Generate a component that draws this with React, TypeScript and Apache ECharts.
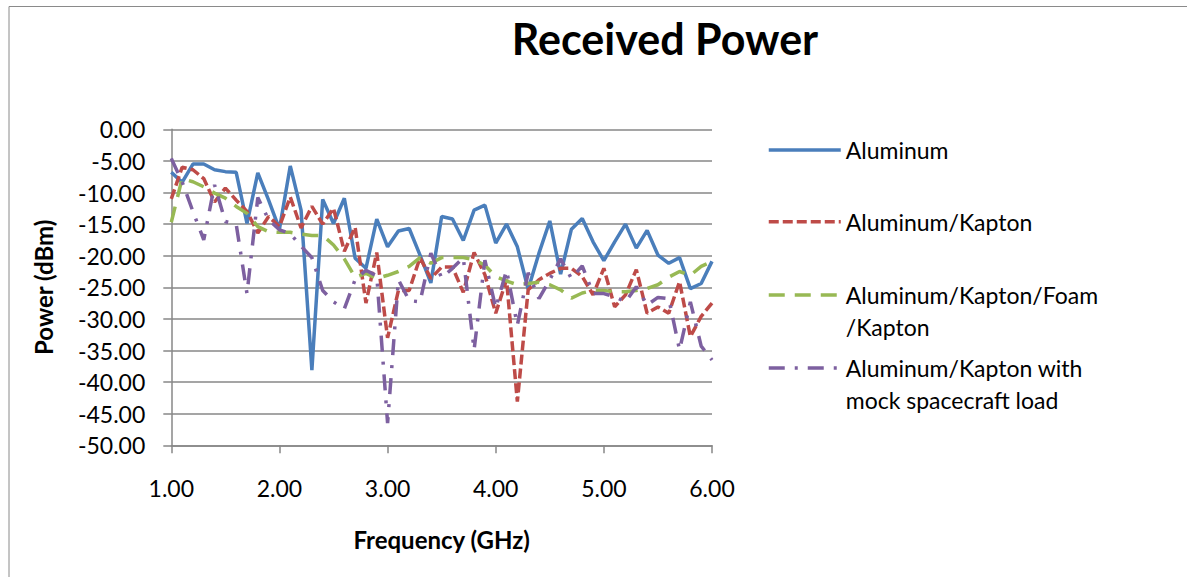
import React, { useEffect, useRef } from "react";
import * as echarts from "echarts";

const freq = [
  1.0, 1.1, 1.2, 1.3, 1.4, 1.5, 1.6, 1.7, 1.8, 1.9,
  2.0, 2.1, 2.2, 2.3, 2.4, 2.5, 2.6, 2.7, 2.8, 2.9,
  3.0, 3.1, 3.2, 3.3, 3.4, 3.5, 3.6, 3.7, 3.8, 3.9,
  4.0, 4.1, 4.2, 4.3, 4.4, 4.5, 4.6, 4.7, 4.8, 4.9,
  5.0, 5.1, 5.2, 5.3, 5.4, 5.5, 5.6, 5.7, 5.8, 5.9,
  6.0,
];

const aluminum = [
  -6.8, -8.4, -5.5, -5.5, -6.4, -6.7, -6.8, -14.9, -6.9, -11.2,
  -15.8, -5.8, -12.8, -38.1, -11.1, -14.9, -10.9, -20.4, -22.0, -14.2,
  -18.6, -16.1, -15.7, -19.9, -24.3, -13.8, -14.2, -17.6, -12.8, -12.0,
  -18.0, -15.0, -18.6, -25.3, -19.6, -14.5, -22.9, -15.8, -14.1, -17.8,
  -20.8, -17.8, -15.0, -18.8, -16.0, -19.9, -21.2, -20.3, -25.2, -24.4,
  -20.9,
];

const aluminumKapton = [
  -11.0, -6.0, -6.4, -7.8, -11.5, -9.3, -11.2, -13.0, -16.4, -13.8,
  -15.4, -10.7, -15.6, -12.2, -15.0, -12.5, -19.3, -15.5, -27.5, -19.5,
  -33.0, -25.5, -25.5, -20.3, -23.6, -21.8, -21.8, -25.8, -19.5, -23.0,
  -29.1, -23.8, -43.1, -25.4, -23.8, -22.8, -22.0, -22.0, -23.3, -26.2,
  -22.0, -28.1, -26.2, -22.2, -29.1, -28.1, -29.1, -24.1, -32.8, -29.6,
  -27.5,
];

const aluminumKaptonFoam = [
  -14.7, -7.8, -8.3, -9.1, -10.1, -10.9, -12.2, -13.3, -15.4, -16.2,
  -16.3, -16.3, -16.6, -16.8, -16.8, -18.3, -20.5, -23.4, -22.8, -23.6,
  -23.1, -22.5, -21.7, -20.3, -21.2, -20.3, -20.3, -20.3, -20.6, -21.5,
  -23.3, -24.0, -24.6, -24.4, -24.2, -24.6, -25.4, -26.7, -25.9, -25.5,
  -25.5, -25.7, -25.7, -25.5, -25.2, -24.6, -23.4, -22.5, -23.1, -21.7,
  -20.9,
];

const aluminumKaptonLoad = [
  -4.6, -8.3, -13.0, -17.5, -8.8, -14.6, -15.0, -26.0, -10.8, -14.3,
  -15.9, -16.5, -18.5, -20.3, -25.5, -27.3, -28.4, -23.8, -22.3, -23.2,
  -46.5, -23.8, -27.1, -27.3, -19.6, -23.5, -22.0, -20.3, -34.9, -20.7,
  -28.3, -22.3, -31.0, -22.7, -26.8, -23.8, -20.5, -23.6, -21.6, -26.0,
  -26.0, -26.5, -27.3, -24.9, -27.8, -26.6, -26.8, -34.9, -27.3, -34.3,
  -36.5,
];

const seriesNames = [
  "Aluminum",
  "Aluminum/Kapton",
  "Aluminum/Kapton/Foam/Kapton",
  "Aluminum/Kapton with mock spacecraft load",
];

const legendLines: Record<string, string[]> = {
  "Aluminum": ["Aluminum"],
  "Aluminum/Kapton": ["Aluminum/Kapton"],
  "Aluminum/Kapton/Foam/Kapton": ["Aluminum/Kapton/Foam", "/Kapton"],
  "Aluminum/Kapton with mock spacecraft load": ["Aluminum/Kapton with", "mock spacecraft load"],
};

const xTicks = [1, 2, 3, 4, 5, 6];

const FONT = "Lato, 'Open Sans', sans-serif";
const GRAY = "#878787";

export default function App() {
  const ref = useRef<HTMLDivElement>(null);

  useEffect(() => {
    if (!ref.current) return;
    const chart = echarts.init(ref.current, null, { renderer: "svg" });

    const mk = (vals: number[]) => freq.map((f, i) => [f, vals[i]]);

    const legendText = {
      fontFamily: FONT,
      fontSize: 23,
      color: "#000",
      lineHeight: 32,
      rich: {
        s: { fontFamily: FONT, fontSize: 23, lineHeight: 32, color: "#000" },
        a: { fontFamily: FONT, fontSize: 23, lineHeight: 32, color: "#000" },
      },
    };
    const fmt = (name: string) => {
      const lines = legendLines[name] || [name];
      if (lines.length === 1) return `{a|${lines[0]}}`;
      return `{s| }\n` + lines.map((l) => `{a|${l}}`).join("\n");
    };
    const legendCenters = [150, 221.7, 295, 368];
    const legends = seriesNames.map((n, i) => {
      const multi = (legendLines[n] || [n]).length > 1;
      return {
        data: [n],
        orient: "vertical",
        left: 767,
        top: legendCenters[i] - (multi ? 48 : 16),
        padding: 0,
        itemWidth: 72,
        itemHeight: 14,
        selectedMode: false,
        itemStyle: { opacity: 0, borderWidth: 0 },
        lineStyle: { width: 3.5 },
        formatter: fmt,
        textStyle: legendText,
      };
    });

    chart.setOption({
      animation: false,
      backgroundColor: "#fff",
      title: {
        text: "Received Power",
        left: 665,
        top: 17,
        textAlign: "center",
        padding: 0,
        textStyle: { fontFamily: FONT, fontSize: 43, fontWeight: "bold", color: "#000" },
      },
      legend: legends,
      graphic: [
        {
          type: "rect",
          silent: true,
          z: -10,
          shape: { x: 9, y: 6.5, width: 1400, height: 800 },
          style: { fill: "none", stroke: "#8a8a8a", lineWidth: 1 },
        },
      ],
      grid: { left: 171.3, right: 475, top: 129.3, bottom: 131.7, containLabel: false },
      xAxis: {
        type: "value",
        min: 1,
        max: 6,
        interval: 1,
        name: "Frequency (GHz)",
        nameLocation: "middle",
        nameGap: 82,
        nameTextStyle: { fontFamily: FONT, fontSize: 24, fontWeight: "bold", color: "#000" },
        axisLine: { show: true, onZero: false, lineStyle: { color: GRAY, width: 1.5 } },
        axisTick: { show: true, length: 8, lineStyle: { color: GRAY, width: 1.5 } },
        splitLine: { show: false },
        axisLabel: {
          margin: 31,
          fontFamily: FONT,
          fontSize: 23,
          color: "#000",
          formatter: (v: number) => (xTicks.includes(v) ? v.toFixed(2) : ""),
        },
      },
      yAxis: {
        type: "value",
        min: -50,
        max: 0,
        interval: 5,
        name: "Power (dBm)",
        nameLocation: "middle",
        nameGap: 116,
        nameTextStyle: { fontFamily: FONT, fontSize: 24, fontWeight: "bold", color: "#000" },
        axisLine: { show: true, onZero: false, lineStyle: { color: GRAY, width: 1.5 } },
        axisTick: { show: true, length: 8, lineStyle: { color: GRAY, width: 1.5 } },
        splitLine: { show: true, lineStyle: { color: GRAY, width: 1.5 } },
        axisLabel: {
          margin: 26,
          fontFamily: FONT,
          fontSize: 23,
          color: "#000",
          formatter: (v: number) => v.toFixed(2),
        },
      },
      series: [
        {
          name: seriesNames[0],
          type: "line",
          data: mk(aluminum),
          symbol: "none",
          showSymbol: false,
          lineStyle: { color: "#4a7ebb", width: 3.5, type: "solid" },
          itemStyle: { color: "#4a7ebb" },
        },
        {
          name: seriesNames[1],
          type: "line",
          data: mk(aluminumKapton),
          symbol: "none",
          showSymbol: false,
          lineStyle: { color: "#be4b48", width: 3.5, type: [10, 4], cap: "butt" },
          itemStyle: { color: "#be4b48" },
        },
        {
          name: seriesNames[2],
          type: "line",
          data: mk(aluminumKaptonFoam),
          symbol: "none",
          showSymbol: false,
          lineStyle: { color: "#98b954", width: 3.5, type: [16, 10], cap: "butt" },
          itemStyle: { color: "#98b954" },
        },
        {
          name: seriesNames[3],
          type: "line",
          data: mk(aluminumKaptonLoad),
          symbol: "none",
          showSymbol: false,
          lineStyle: { color: "#7d60a0", width: 3.5, type: [16, 10, 3, 10], cap: "butt" },
          itemStyle: { color: "#7d60a0" },
        },
      ],
    });

    return () => chart.dispose();
  }, []);

  return (
    <div
      ref={ref}
      style={{ position: "fixed", left: 0, top: 0, width: 1187, height: 577, background: "#fff" }}
    />
  );
}
